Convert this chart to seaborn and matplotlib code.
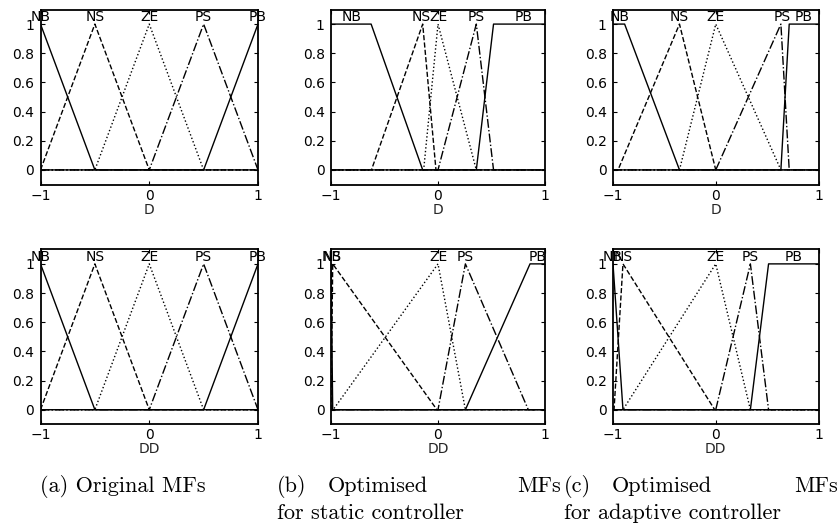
import numpy as np
import pandas as pd
import matplotlib
matplotlib.use("Agg")
import matplotlib.pyplot as plt
import seaborn as sns

# ---------------- data ----------------
mf_names = ["NB", "NS", "ZE", "PS", "PB"]
mf_styles = ["-", "--", ":", "-.", "-"]

# membership-function breakpoints (x) and membership values (y)
y_left = [1, 0]
y_tri = [0, 1, 0]
y_right = [0, 1]
y_left_trap = [1, 1, 0]
y_right_trap = [0, 1, 1]

# (a) original MFs (same for D and DD)
orig_x = [[-1, -0.5], [-1, -0.5, 0], [-0.5, 0, 0.5], [0, 0.5, 1], [0.5, 1]]
orig_y = [y_left, y_tri, y_tri, y_tri, y_right]
orig_lab = [-1, -0.5, 0, 0.5, 1]

# (b) static controller, D
static_d_x = [[-1, -0.625, -0.143], [-0.622, -0.143, -0.019], [-0.134, 0.0, 0.358],
              [0.0, 0.358, 0.519], [0.358, 0.519, 1]]
static_d_y = [y_left_trap, y_tri, y_tri, y_tri, y_right_trap]
static_d_lab = [-0.81, -0.16, 0.0, 0.358, 0.80]

# (c) adaptive controller, D
adapt_d_x = [[-1, -0.887, -0.353], [-0.951, -0.353, 0.0], [-0.353, 0.0, 0.634],
             [0.0, 0.634, 0.715], [0.634, 0.715, 1]]
adapt_d_y = [y_left_trap, y_tri, y_tri, y_tri, y_right_trap]
adapt_d_lab = [-0.94, -0.353, 0.0, 0.644, 0.86]

# (b) static controller, DD
static_dd_x = [[-1, -0.984], [-1.0, -0.984, -0.01], [-0.98, 0.0, 0.256],
               [0.0, 0.256, 0.844], [0.256, 0.86, 1]]
static_dd_y = [y_left, y_tri, y_tri, y_tri, y_right_trap]
static_dd_lab = [-0.99, -0.985, 0.0, 0.256, 0.93]

# (c) adaptive controller, DD
adapt_dd_x = [[-1, -0.903], [-0.99, -0.903, -0.01], [-0.903, 0.0, 0.337],
              [0.0, 0.337, 0.514], [0.337, 0.514, 1]]
adapt_dd_y = [y_left, y_tri, y_tri, y_tri, y_right_trap]
adapt_dd_lab = [-1.0, -0.9, 0.0, 0.337, 0.757]

x_ticks = [-1, 0, 1]
x_ticklabels = ["\u22121", "0", "1"]
y_ticks = [0, 0.2, 0.4, 0.6, 0.8, 1]
y_ticklabels = ["0", "0.2", "0.4", "0.6", "0.8", "1"]

# ---------------- style ----------------
sns.set_theme(style="ticks")
plt.rcParams["font.family"] = ["DejaVu Sans"]
plt.rcParams["axes.linewidth"] = 1.3

W, H = 839, 527
fig = plt.figure(figsize=(W / 100, H / 100), dpi=100)

cols = [(40.5, 258.0), (331.0, 545.0), (613.0, 818.5)]
rows = [(9.5, 184.5), (249.3, 424.3)]

panels = [
    (0, 0, orig_x, orig_y, orig_lab, "D"),
    (0, 1, static_d_x, static_d_y, static_d_lab, "D"),
    (0, 2, adapt_d_x, adapt_d_y, adapt_d_lab, "D"),
    (1, 0, orig_x, orig_y, orig_lab, "DD"),
    (1, 1, static_dd_x, static_dd_y, static_dd_lab, "DD"),
    (1, 2, adapt_dd_x, adapt_dd_y, adapt_dd_lab, "DD"),
]

fs = 10

for r, c, xs_list, ys_list, lab_pos, xlabel in panels:
    x0, x1 = cols[c]
    top, bot = rows[r]
    ax = fig.add_axes([x0 / W, 1 - bot / H, (x1 - x0) / W, (bot - top) / H])
    for name, ls, xs, ys in zip(mf_names, mf_styles, xs_list, ys_list):
        px = [-1.0] + list(xs) + [1.0]
        py = [ys[0]] + list(ys) + [ys[-1]]
        df = pd.DataFrame({"x": px, "y": py})
        sns.lineplot(data=df, x="x", y="y", ax=ax, color="black", linestyle=ls,
                     linewidth=1.0, sort=False, estimator=None)
    for name, lx in zip(mf_names, lab_pos):
        ax.text(lx, 1.022, name, ha="center", va="baseline", fontsize=fs,
                color="black", clip_on=False)
    ax.set_xlim(-1, 1)
    ax.set_ylim(-0.1, 1.1)
    ax.set_xticks(x_ticks)
    ax.set_xticklabels(x_ticklabels)
    ax.set_yticks(y_ticks)
    ax.set_yticklabels(y_ticklabels)
    ax.tick_params(direction="in", length=3, width=0.8, top=True, right=True,
                   labelsize=fs, colors="black")
    ax.tick_params(axis="x", pad=3)
    ax.tick_params(axis="y", pad=4.5)
    ax.set_xlabel(xlabel, fontsize=fs, labelpad=0)
    ax.set_ylabel("")
    for sp in ax.spines.values():
        sp.set_visible(True)
        sp.set_color("black")

# ---------------- captions ----------------
cap_kw = dict(fontsize=16, family="cmr10", color="black", va="center")
y1 = 1 - 486 / H
y2 = 1 - 513 / H
fig.text(40 / W, y1, "(a) Original MFs", ha="left", **cap_kw)
fig.text(277 / W, y1, "(b)", ha="left", **cap_kw)
fig.text(378 / W, y1, "Optimised", ha="center", **cap_kw)
fig.text(561 / W, y1, "MFs", ha="right", **cap_kw)
fig.text(277 / W, y2, "for static controller", ha="left", **cap_kw)
fig.text(564 / W, y1, "(c)", ha="left", **cap_kw)
fig.text(662 / W, y1, "Optimised", ha="center", **cap_kw)
fig.text(838 / W, y1, "MFs", ha="right", **cap_kw)
fig.text(564 / W, y2, "for adaptive controller", ha="left", **cap_kw)

fig.savefig("out.png", dpi=100)
